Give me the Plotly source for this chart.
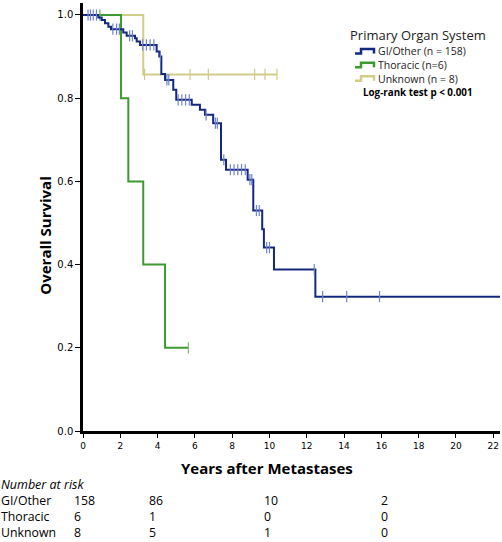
import numpy as np
import plotly.graph_objects as go

# ---------------- data ----------------
gi_times = [0.82, 1.0, 1.18, 1.36, 1.5, 2.16, 2.34, 2.79, 2.88, 3.06, 3.95, 4.09, 4.2, 4.4,
            4.84, 5.0, 5.83, 6.27, 6.54, 6.98, 7.4, 7.67, 8.83, 9.13, 9.61, 9.70, 10.24, 12.46]
gi_surv = [0.994, 0.988, 0.980, 0.972, 0.966, 0.958, 0.950, 0.944, 0.936, 0.928, 0.912, 0.900,
           0.858, 0.844, 0.820, 0.796, 0.784, 0.772, 0.760, 0.740, 0.652, 0.628, 0.604, 0.530,
           0.485, 0.441, 0.388, 0.323]
gi_censor = [0.27, 0.4, 0.55, 0.72, 1.6, 1.8, 1.95, 2.5, 2.65, 3.2, 3.4, 3.6, 3.8, 4.15, 4.5, 4.6,
             5.1, 5.3, 5.5, 5.7, 6.6, 7.1, 7.2, 7.55, 7.9, 8.1, 8.3, 8.5, 8.7, 8.95, 9.05, 9.3,
             9.45, 9.85, 10.0, 12.4, 12.85, 14.14, 15.9]
gi_end = 22.4

th_times = [2.04, 2.43, 3.23, 4.4]
th_surv = [0.8, 0.6, 0.4, 0.2]
th_censor = [0.9, 5.65]
th_end = 5.65

un_times = [3.23]
un_surv = [0.857]
un_censor = [0.9, 3.3, 5.74, 6.72, 9.2, 9.76, 10.4]
un_end = 10.4

series_names = ["GI/Other (n = 158)", "Thoracic (n=6)", "Unknown (n = 8)"]
series_colors = ["#14287f", "#3c9a30", "#d3cd8c"]
censor_colors = ["#6f82cc", "#7cc06e", "#cfc98a"]

x_ticks = list(range(0, 23, 2))
y_ticks = [0.0, 0.2, 0.4, 0.6, 0.8, 1.0]

legend_title = "Primary Organ System"
logrank_text = "Log-rank test p < 0.001"

risk_groups = ["GI/Other", "Thoracic", "Unknown"]
risk_gi = [158, 86, 10, 2]
risk_th = [6, 1, 0, 0]
risk_un = [8, 5, 1, 0]
risk_col_px = [73, 148, 263, 380]

W, H = 502, 542
ML, MR, MT, MB = 83, 2, 3, 110.5
X_MAX = 22.36
Y_MAX = 1.0288


def step_xy(times, surv, end):
    xs = [0.0] + list(times) + [end]
    ys = [1.0] + list(surv) + [surv[-1]]
    return xs, ys


def surv_at(times, surv, t):
    s = 1.0
    for tt, ss in zip(times, surv):
        if tt <= t:
            s = ss
    return s


fig = go.Figure()
groups = [
    (un_times, un_surv, un_censor, un_end, 2),
    (th_times, th_surv, th_censor, th_end, 1),
    (gi_times, gi_surv, gi_censor, gi_end, 0),
]
for times, surv, cens, end, idx in groups:
    xs, ys = step_xy(times, surv, end)
    fig.add_trace(go.Scatter(
        x=xs, y=ys, mode="lines", line=dict(shape="hv", color=series_colors[idx], width=2),
        name=series_names[idx], showlegend=False, hoverinfo="skip"))
    cy = [surv_at(times, surv, c) for c in cens]
    fig.add_trace(go.Scatter(
        x=cens, y=cy, mode="markers", showlegend=False, hoverinfo="skip",
        marker=dict(symbol="line-ns-open", size=8, color=censor_colors[idx],
                    line=dict(color=censor_colors[idx], width=1.2))))

font_main = "Open Sans, DejaVu Sans, sans-serif"

fig.update_layout(
    width=W, height=H,
    margin=dict(l=ML, r=MR, t=MT, b=MB, pad=0),
    paper_bgcolor="white", plot_bgcolor="white",
    font=dict(family=font_main, color="black"),
    showlegend=False,
    xaxis=dict(
        range=[0, X_MAX], tickvals=x_ticks, ticktext=[str(v) for v in x_ticks],
        showgrid=False, zeroline=False, showline=True, linecolor="black", linewidth=2.5,
        ticks="outside", ticklen=4, tickwidth=1.2, tickcolor="black",
        tickfont=dict(size=9, family="DejaVu Sans"),
    ),
    yaxis=dict(
        range=[0, Y_MAX], tickvals=y_ticks, ticktext=[f"{v:.1f}" for v in y_ticks],
        showgrid=False, zeroline=False, showline=True, linecolor="black", linewidth=2.5,
        ticks="outside", ticklen=5, tickwidth=1.2, tickcolor="black",
        tickfont=dict(size=10, family="DejaVu Sans"),
    ),
)


def px_to_paper_x(px):
    return (px - ML) / (W - ML - MR)


def px_to_paper_y(py):
    return (H - MB - py) / (H - MT - MB)


def text_ann(text, px, py, size, xanchor="left", **kw):
    d = dict(text=text, x=px_to_paper_x(px), y=px_to_paper_y(py), xref="paper", yref="paper",
             xanchor=xanchor, yanchor="middle", showarrow=False, borderpad=0, align="left",
             font=dict(size=size, family=font_main, color=kw.pop("color", "black")))
    d.update(kw)
    return d


ann = []
shapes = []
# ---- custom legend ----
ann.append(text_ann(legend_title, 349, 35, 13, color="#222"))
legend_rows_px = [51.5, 65.2, 78.9]
for idx, ly in enumerate(legend_rows_px):
    ann.append(text_ann(series_names[idx], 376.5, ly, 10.5, color="#222"))
    x0, x1, x2 = px_to_paper_x(355), px_to_paper_x(361), px_to_paper_x(374)
    yb, yt = px_to_paper_y(ly + 2), px_to_paper_y(ly - 2.5)
    shapes.append(dict(type="path", xref="paper", yref="paper",
                       path=f"M {x0},{yb} L {x1},{yb} L {x1},{yt} L {x2},{yt} L {x2},{yb}",
                       line=dict(color=series_colors[idx], width=2.5)))
ann.append(text_ann(f"<b>{logrank_text}</b>", 362, 92.6, 9.8))
# ---- axis titles ----
ann.append(text_ann("<b>Years after Metastases</b>", 267, 469, 15, xanchor="center"))
ann.append(text_ann("<b>Overall Survival</b>", 45, 236, 15, xanchor="center", textangle=-90))
# ---- number at risk (one multi-line block per column) ----
ann.append(text_ann("<i>Number at risk</i>", 0, 484.8, 12.5))
table_center_px = 517.5
ann.append(text_ann("<br>".join(risk_groups), 0, table_center_px, 12.3))
risk_rows = [risk_gi, risk_th, risk_un]
for ci, cx in enumerate(risk_col_px):
    col_text = "<br>".join(str(row[ci]) for row in risk_rows)
    ann.append(text_ann(col_text, cx, table_center_px, 12.3))
fig.update_layout(annotations=ann, shapes=shapes)

fig.write_html("out.html", config={"displayModeBar": False},
               post_script="document.body.style.margin='0';document.body.style.overflow='hidden';")
